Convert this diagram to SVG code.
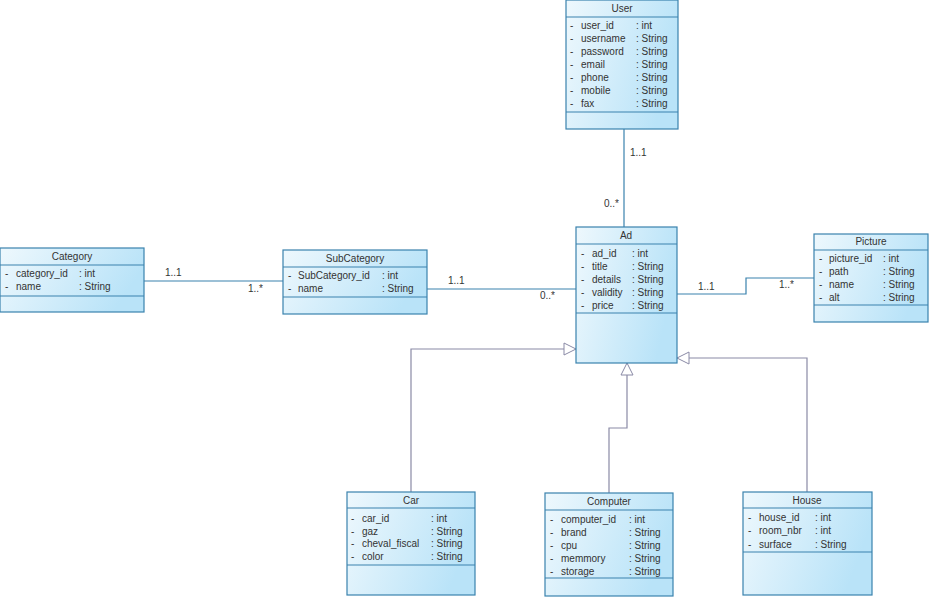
<svg xmlns="http://www.w3.org/2000/svg" width="929" height="597" viewBox="0 0 929 597">
<defs>
<linearGradient id="g" x1="0" y1="0" x2="1" y2="0.3">
<stop offset="0" stop-color="#eef8fd"/>
<stop offset="1" stop-color="#b9e3f8"/>
</linearGradient>
<marker id="tri" markerWidth="14" markerHeight="14" refX="13" refY="7" orient="auto" markerUnits="userSpaceOnUse">
<path d="M1,1 L13,7 L1,13 Z" fill="#fff" stroke="#8a8aa6" stroke-width="1"/>
</marker>
<style>
.box{fill:url(#g);stroke:#3a82ad;stroke-width:1.2}
.sep{stroke:#3a82ad;stroke-width:1.2}
text{font-family:"Liberation Sans",Arial,sans-serif;font-size:10px;fill:#333}
.t{text-anchor:middle}
.assoc{fill:none;stroke:#3a82ad;stroke-width:1.2}
.gen{fill:none;stroke:#8a8aa6;stroke-width:1.2}
</style>
</defs>
<rect width="929" height="597" fill="#fff"/>

<g id="connectors">
<path class="assoc" d="M624,129 V227"/>
<path class="assoc" d="M144,281 H283"/>
<path class="assoc" d="M427,289 H576"/>
<path class="assoc" d="M677,294 H746 V278 H814"/>
<path class="gen" d="M411,492 V349 H576" marker-end="url(#tri)"/>
<path class="gen" d="M609,493 V428 H627 V363" marker-end="url(#tri)"/>
<path class="gen" d="M807,492 V358 H677" marker-end="url(#tri)"/>
<text x="630" y="156">1..1</text>
<text x="604" y="207">0..*</text>
<text x="165" y="276">1..1</text>
<text x="248" y="292">1..*</text>
<text x="448" y="284">1..1</text>
<text x="540" y="299">0..*</text>
<text x="698" y="290">1..1</text>
<text x="779" y="288">1..*</text>
</g>

<g id="User">
<rect class="box" x="566" y="0" width="112" height="129"/>
<line class="sep" x1="566" y1="17" x2="678" y2="17"/>
<line class="sep" x1="566" y1="112" x2="678" y2="112"/>
<text class="t" x="622" y="12">User</text>
<text x="570" y="29">-</text><text x="581" y="29">user_id</text><text x="636" y="29">: int</text>
<text x="570" y="42">-</text><text x="581" y="42">username</text><text x="636" y="42">: String</text>
<text x="570" y="55">-</text><text x="581" y="55">password</text><text x="636" y="55">: String</text>
<text x="570" y="68">-</text><text x="581" y="68">email</text><text x="636" y="68">: String</text>
<text x="570" y="81">-</text><text x="581" y="81">phone</text><text x="636" y="81">: String</text>
<text x="570" y="94">-</text><text x="581" y="94">mobile</text><text x="636" y="94">: String</text>
<text x="570" y="107">-</text><text x="581" y="107">fax</text><text x="636" y="107">: String</text>
</g>

<g id="Ad">
<rect class="box" x="576" y="227" width="101" height="136"/>
<line class="sep" x1="576" y1="244" x2="677" y2="244"/>
<line class="sep" x1="576" y1="313" x2="677" y2="313"/>
<text class="t" x="626" y="239">Ad</text>
<text x="581" y="257">-</text><text x="592" y="257">ad_id</text><text x="632" y="257">: int</text>
<text x="581" y="270">-</text><text x="592" y="270">title</text><text x="632" y="270">: String</text>
<text x="581" y="283">-</text><text x="592" y="283">details</text><text x="632" y="283">: String</text>
<text x="581" y="296">-</text><text x="592" y="296">validity</text><text x="632" y="296">: String</text>
<text x="581" y="309">-</text><text x="592" y="309">price</text><text x="632" y="309">: String</text>
</g>

<g id="Category">
<rect class="box" x="0" y="248" width="144" height="64"/>
<line class="sep" x1="0" y1="265" x2="144" y2="265"/>
<line class="sep" x1="0" y1="296" x2="144" y2="296"/>
<text class="t" x="72" y="260">Category</text>
<text x="5" y="277">-</text><text x="16" y="277">category_id</text><text x="79" y="277">: int</text>
<text x="5" y="290">-</text><text x="16" y="290">name</text><text x="79" y="290">: String</text>
</g>

<g id="SubCategory">
<rect class="box" x="283" y="250" width="144" height="64"/>
<line class="sep" x1="283" y1="267" x2="427" y2="267"/>
<line class="sep" x1="283" y1="297" x2="427" y2="297"/>
<text class="t" x="355" y="262">SubCategory</text>
<text x="288" y="279">-</text><text x="298" y="279">SubCategory_id</text><text x="382" y="279">: int</text>
<text x="288" y="292">-</text><text x="298" y="292">name</text><text x="382" y="292">: String</text>
</g>

<g id="Picture">
<rect class="box" x="814" y="234" width="114" height="88"/>
<line class="sep" x1="814" y1="250" x2="928" y2="250"/>
<line class="sep" x1="814" y1="305" x2="928" y2="305"/>
<text class="t" x="871" y="245">Picture</text>
<text x="819" y="262">-</text><text x="829" y="262">picture_id</text><text x="883" y="262">: int</text>
<text x="819" y="275">-</text><text x="829" y="275">path</text><text x="883" y="275">: String</text>
<text x="819" y="288">-</text><text x="829" y="288">name</text><text x="883" y="288">: String</text>
<text x="819" y="301">-</text><text x="829" y="301">alt</text><text x="883" y="301">: String</text>
</g>

<g id="Car">
<rect class="box" x="347" y="492" width="128" height="103"/>
<line class="sep" x1="347" y1="508" x2="475" y2="508"/>
<line class="sep" x1="347" y1="565" x2="475" y2="565"/>
<text class="t" x="411" y="504">Car</text>
<text x="351" y="522">-</text><text x="362" y="522">car_id</text><text x="431" y="522">: int</text>
<text x="351" y="535">-</text><text x="362" y="535">gaz</text><text x="431" y="535">: String</text>
<text x="351" y="547">-</text><text x="362" y="547">cheval_fiscal</text><text x="431" y="547">: String</text>
<text x="351" y="560">-</text><text x="362" y="560">color</text><text x="431" y="560">: String</text>
</g>

<g id="Computer">
<rect class="box" x="545" y="493" width="128" height="103"/>
<line class="sep" x1="545" y1="510" x2="673" y2="510"/>
<line class="sep" x1="545" y1="578" x2="673" y2="578"/>
<text class="t" x="609" y="505">Computer</text>
<text x="550" y="523">-</text><text x="561" y="523">computer_id</text><text x="629" y="523">: int</text>
<text x="550" y="536">-</text><text x="561" y="536">brand</text><text x="629" y="536">: String</text>
<text x="550" y="549">-</text><text x="561" y="549">cpu</text><text x="629" y="549">: String</text>
<text x="550" y="562">-</text><text x="561" y="562">memmory</text><text x="629" y="562">: String</text>
<text x="550" y="575">-</text><text x="561" y="575">storage</text><text x="629" y="575">: String</text>
</g>

<g id="House">
<rect class="box" x="743" y="492" width="129" height="103"/>
<line class="sep" x1="743" y1="508" x2="872" y2="508"/>
<line class="sep" x1="743" y1="552" x2="872" y2="552"/>
<text class="t" x="807" y="504">House</text>
<text x="748" y="521">-</text><text x="759" y="521">house_id</text><text x="815" y="521">: int</text>
<text x="748" y="534">-</text><text x="759" y="534">room_nbr</text><text x="815" y="534">: int</text>
<text x="748" y="548">-</text><text x="759" y="548">surface</text><text x="815" y="548">: String</text>
</g>
</svg>
